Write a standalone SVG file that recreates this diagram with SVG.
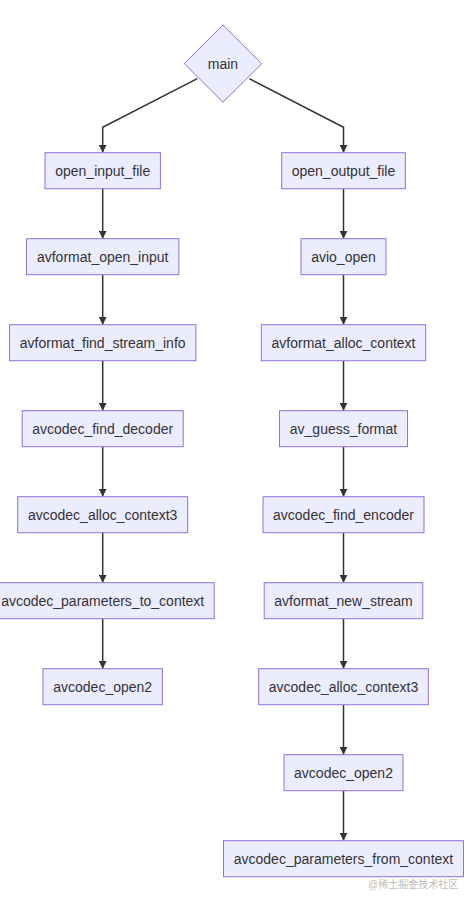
<svg xmlns="http://www.w3.org/2000/svg" width="472" height="905" viewBox="0 0 472 905">
<style>
.n rect,.n polygon{fill:#ECECFF;stroke:#9370DB;stroke-width:1}
.n text{font-family:"Liberation Sans",Arial,sans-serif;font-size:14px;fill:#333;text-anchor:middle;dominant-baseline:central}
.e path{fill:none;stroke:#333;stroke-width:1.5;marker-end:url(#ah)}
.wm{font-family:"Liberation Sans","Noto Sans CJK SC",sans-serif;font-size:10px;fill:#bdbdbd}
</style>
<defs>
<marker id="ah" viewBox="0 0 10 10" refX="10" refY="5" markerWidth="8" markerHeight="8" markerUnits="userSpaceOnUse" orient="auto">
<path d="M0,0 L10,5 L0,10 z" fill="#333"/>
</marker>
</defs>
<rect width="472" height="905" fill="#fff"/>
<g class="e" id="edges">
<path d="M197.3,78.7 L102.7,127.3 L102.7,152.7"/>
<path d="M249.3,78.7 L343.5,127.3 L343.5,152.7"/>
<path d="M102.7,188.7 L102.7,238.7"/>
<path d="M102.7,274.7 L102.7,324.7"/>
<path d="M102.7,360.7 L102.7,410.7"/>
<path d="M102.7,446.7 L102.7,496.7"/>
<path d="M102.7,532.7 L102.7,582.7"/>
<path d="M102.7,618.7 L102.7,668.7"/>
<path d="M343.5,188.7 L343.5,238.7"/>
<path d="M343.5,274.7 L343.5,324.7"/>
<path d="M343.5,360.7 L343.5,410.7"/>
<path d="M343.5,446.7 L343.5,496.7"/>
<path d="M343.5,532.7 L343.5,582.7"/>
<path d="M343.5,618.7 L343.5,668.7"/>
<path d="M343.5,704.7 L343.5,754.7"/>
<path d="M343.5,790.7 L343.5,840.7"/>
</g>
<g class="n" id="main"><polygon points="223,25 261.7,63.7 223,102.3 184.3,63.7"/><text x="223" y="63.7">main</text></g>
<g class="n" id="open_input_file"><rect x="45" y="152.7" width="115.4" height="36"/><text x="102.7" y="170.7">open_input_file</text></g>
<g class="n" id="avformat_open_input"><rect x="26.5" y="238.7" width="152.4" height="36"/><text x="102.7" y="256.7">avformat_open_input</text></g>
<g class="n" id="avformat_find_stream_info"><rect x="9.5" y="324.7" width="186.4" height="36"/><text x="102.7" y="342.7">avformat_find_stream_info</text></g>
<g class="n" id="avcodec_find_decoder"><rect x="22.2" y="410.7" width="161" height="36"/><text x="102.7" y="428.7">avcodec_find_decoder</text></g>
<g class="n" id="avcodec_alloc_context3_in"><rect x="17.7" y="496.7" width="170" height="36"/><text x="102.7" y="514.7">avcodec_alloc_context3</text></g>
<g class="n" id="avcodec_parameters_to_context"><rect x="-8.8" y="582.7" width="223" height="36"/><text x="102.7" y="600.7">avcodec_parameters_to_context</text></g>
<g class="n" id="avcodec_open2_in"><rect x="43" y="668.7" width="119.4" height="36"/><text x="102.7" y="686.7">avcodec_open2</text></g>
<g class="n" id="open_output_file"><rect x="281.7" y="152.7" width="123.6" height="36"/><text x="343.5" y="170.7">open_output_file</text></g>
<g class="n" id="avio_open"><rect x="301" y="238.7" width="85" height="36"/><text x="343.5" y="256.7">avio_open</text></g>
<g class="n" id="avformat_alloc_context"><rect x="261.3" y="324.7" width="164.4" height="36"/><text x="343.5" y="342.7">avformat_alloc_context</text></g>
<g class="n" id="av_guess_format"><rect x="279.5" y="410.7" width="128" height="36"/><text x="343.5" y="428.7">av_guess_format</text></g>
<g class="n" id="avcodec_find_encoder"><rect x="263" y="496.7" width="161" height="36"/><text x="343.5" y="514.7">avcodec_find_encoder</text></g>
<g class="n" id="avformat_new_stream"><rect x="264.2" y="582.7" width="158.6" height="36"/><text x="343.5" y="600.7">avformat_new_stream</text></g>
<g class="n" id="avcodec_alloc_context3_out"><rect x="258.7" y="668.7" width="169.6" height="36"/><text x="343.5" y="686.7">avcodec_alloc_context3</text></g>
<g class="n" id="avcodec_open2_out"><rect x="284" y="754.7" width="119" height="36"/><text x="343.5" y="772.7">avcodec_open2</text></g>
<g class="n" id="avcodec_parameters_from_context"><rect x="223.5" y="840.7" width="240" height="36"/><text x="343.5" y="858.7">avcodec_parameters_from_context</text></g>
<text class="wm" x="368" y="887.5">@稀土掘金技术社区</text>
</svg>
